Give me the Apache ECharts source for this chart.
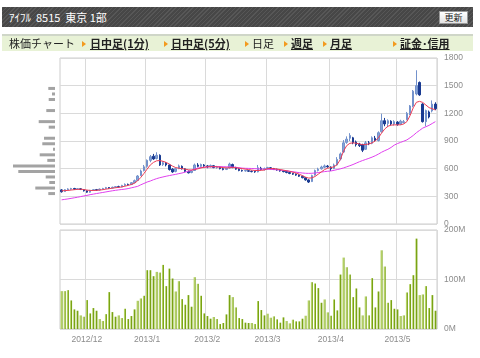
<!DOCTYPE html>
<html><head><meta charset="utf-8">
<script src="https://cdn.jsdelivr.net/npm/echarts/dist/echarts.min.js"></script>
<style>
body{margin:0;width:480px;height:358px;overflow:hidden;background:#fff;position:relative;font-family:"Noto Sans CJK JP",sans-serif;}
#chart{position:absolute;left:0;top:0;width:480px;height:358px;}
#hdr{position:absolute;left:2px;top:7px;width:471px;height:20px;background:repeating-linear-gradient(135deg,#575757 0 1px,#474747 1px 3px);}
#title{position:absolute;left:7px;top:3px;color:#fff;font-size:11px;line-height:14px;white-space:nowrap;}
#btn{position:absolute;left:437px;top:4px;width:27px;height:11px;background:linear-gradient(#fff,#e4e4e4);border:1px solid #999;font-size:9px;line-height:11px;text-align:center;color:#222;}
#nav{position:absolute;left:2px;top:34px;width:471px;height:15px;background:#e8f2d6;border-top:2px solid #cfd6c8;}
.n{position:absolute;top:0px;font-size:11px;line-height:15px;color:#222;white-space:nowrap;}
.l{font-weight:bold;text-decoration:underline;}
.a{position:absolute;top:5px;width:0;height:0;border-left:4px solid #f39a1e;border-top:3px solid transparent;border-bottom:3px solid transparent;}
</style></head><body>
<div id="chart"></div>
<div id="hdr"><span id="title">ｱｲﾌﾙ&nbsp; 8515&nbsp; 東京 1部</span><div id="btn">更新</div></div>
<div id="nav">
<span class="n" style="left:7px">株価チャート</span>
<span class="a" style="left:80px"></span><span class="n l" style="left:88px">日中足(1分)</span>
<span class="a" style="left:162px"></span><span class="n l" style="left:169px">日中足(5分)</span>
<span class="a" style="left:243px"></span><span class="n" style="left:250px">日足</span>
<span class="a" style="left:282px"></span><span class="n l" style="left:289px">週足</span>
<span class="a" style="left:321px"></span><span class="n l" style="left:328px">月足</span>
<span class="a" style="left:391px"></span><span class="n l" style="left:398px">証金･信用</span>
</div>
<script>
// ---- data ----
const dates = [
'2012/11/20','2012/11/21','2012/11/22','2012/11/26','2012/11/27','2012/11/28','2012/11/29','2012/11/30',
'2012/12/03','2012/12/04','2012/12/05','2012/12/06','2012/12/07','2012/12/10','2012/12/11','2012/12/12','2012/12/13','2012/12/14','2012/12/17','2012/12/18','2012/12/19','2012/12/20','2012/12/21','2012/12/25','2012/12/26','2012/12/27','2012/12/28',
'2013/01/04','2013/01/07','2013/01/08','2013/01/09','2013/01/10','2013/01/11','2013/01/15','2013/01/16','2013/01/17','2013/01/18','2013/01/21','2013/01/22','2013/01/23','2013/01/24','2013/01/25','2013/01/28','2013/01/29','2013/01/30','2013/01/31',
'2013/02/01','2013/02/04','2013/02/05','2013/02/06','2013/02/07','2013/02/08','2013/02/12','2013/02/13','2013/02/14','2013/02/15','2013/02/18','2013/02/19','2013/02/20','2013/02/21','2013/02/22','2013/02/25','2013/02/26','2013/02/27','2013/02/28',
'2013/03/01','2013/03/04','2013/03/05','2013/03/06','2013/03/07','2013/03/08','2013/03/11','2013/03/12','2013/03/13','2013/03/14','2013/03/15','2013/03/18','2013/03/19','2013/03/21','2013/03/22','2013/03/25','2013/03/26','2013/03/27','2013/03/28','2013/03/29',
'2013/04/01','2013/04/02','2013/04/03','2013/04/04','2013/04/05','2013/04/08','2013/04/09','2013/04/10','2013/04/11','2013/04/12','2013/04/15','2013/04/16','2013/04/17','2013/04/18','2013/04/19','2013/04/22','2013/04/23','2013/04/24','2013/04/25','2013/04/26','2013/04/30',
'2013/05/01','2013/05/02','2013/05/07','2013/05/08','2013/05/09','2013/05/10','2013/05/13','2013/05/14','2013/05/15','2013/05/16','2013/05/17','2013/05/20','2013/05/21'];

const openP = [370,352,372,378,385,378,382,372,
360,345,365,372,368,378,385,395,390,398,405,402,418,430,428,448,472,525,580,
625,690,735,710,745,645,660,640,595,570,600,625,598,570,558,580,640,625,640,
630,622,632,612,615,600,592,608,645,612,595,580,575,578,572,570,565,605,590,
600,610,600,592,585,575,570,558,548,540,530,518,502,478,460,530,580,598,615,628,
618,602,640,705,780,885,930,935,890,865,860,810,880,875,930,905,1000,1120,1090,1115,1085,
1105,1085,1100,1130,1200,1280,1410,1535,1300,1110,1215,1225,1300];
const closeP = [350,372,380,385,378,382,375,360,
345,365,372,368,378,385,395,390,398,405,402,418,430,425,448,470,520,575,620,
690,730,705,745,640,665,640,590,565,600,630,600,570,555,575,640,625,645,630,
620,635,612,618,600,590,605,650,615,595,580,575,580,572,568,565,610,590,600,
612,600,592,585,575,568,558,548,540,530,518,502,478,455,525,580,595,618,630,620,
600,640,700,760,880,920,960,880,860,850,800,880,870,935,905,990,1120,1085,1120,1085,1110,
1080,1115,1110,1200,1280,1440,1500,1400,1110,1230,1160,1300,1250];
const lowP = [340,348,365,372,370,372,368,352,
338,340,358,362,362,372,380,382,385,392,396,398,412,418,422,442,468,520,570,
610,670,695,700,630,630,625,580,555,560,595,590,560,548,550,575,615,612,620,
605,612,605,600,592,582,585,600,605,588,572,568,568,565,560,555,560,582,580,
590,592,585,578,568,560,550,540,532,522,510,495,470,445,455,525,570,590,605,610,
575,595,635,690,770,870,900,865,840,835,780,805,855,865,890,895,990,1060,1050,1070,1068,
1065,1075,1090,1125,1180,1265,1395,1390,1100,1060,1145,1210,1235];
const highP = [378,378,388,392,392,390,388,378,
365,370,378,380,385,392,402,400,405,412,415,425,440,438,455,482,530,590,640,
700,748,760,778,755,680,672,648,605,610,645,635,605,580,585,655,660,655,650,
640,645,640,630,622,610,612,665,655,620,605,590,588,585,580,578,640,620,612,
620,618,608,600,592,582,578,565,555,548,538,525,510,485,535,590,610,632,645,640,
625,655,725,775,910,950,985,945,905,880,870,900,900,950,955,1005,1196,1150,1135,1125,1125,
1115,1130,1128,1215,1290,1453,1667,1545,1310,1240,1230,1340,1320];
const volumeM = [76.5,76.5,78.5,57.7,39.6,36.9,27.5,24.8,
58.4,31.5,42.3,36.9,20.1,16.1,30,74.5,34.2,24.8,27.5,22.1,40.9,20.1,26.2,39.6,57,61.7,67.1,
118.8,118.8,106.7,115.4,114,129.5,86.6,122,102,75.8,96.6,60.4,49,68.5,45,104.7,91.3,67.1,31.5,
26.2,20.8,24.2,20.1,10,12.1,29.5,68.5,64.4,43.6,22.1,20.1,12.8,12.1,12.1,10,56.4,38.3,27.5,
30.9,22.8,25.5,19.5,12.8,23.5,16.1,11.4,18.8,15.4,15.4,20.8,26.8,57.7,94.6,91.9,82.6,53,59.7,33.6,
26.8,59.7,37.6,110,144.3,124.8,110,64.4,81.9,43.6,27.5,65.8,27.5,102.7,43.6,75.8,159,126.2,53,58.4,40.9,
39.6,26.2,27.5,73.8,90.6,108.7,182.6,68.5,69.8,86.6,42.3,68.5,36.9];
const maShort = [360,362,364,368,372,375,377,374,
368,364,363,365,368,372,378,383,388,393,397,402,410,418,428,442,468,505,548,
595,640,668,685,688,680,668,650,628,612,605,600,595,588,585,590,598,608,615,
620,622,622,620,616,612,608,610,612,610,605,600,595,590,585,580,580,582,585,
600,602,600,596,590,584,578,570,562,552,540,525,508,498,500,515,540,565,590,605,
612,620,645,700,790,850,875,880,876,868,860,862,868,880,900,935,985,1030,1060,1072,1075,
1075,1075,1085,1110,1175,1260,1320,1330,1318,1290,1262,1250,1236];
const maLong = [262,267,272,278,284,290,297,304,
310,318,324,330,336,342,348,354,360,365,370,374,378,384,392,400,408,425,440,
455,466,480,492,502,510,518,525,532,538,546,553,562,572,584,596,606,612,616,
618,620,621,622,622,621,620,620,618,615,610,606,604,603,602,600,598,596,595,
594,592,590,588,585,581,577,572,567,562,557,553,550,549,550,553,558,563,568,572,
575,582,590,598,608,620,632,645,660,675,688,700,712,725,740,758,778,795,810,830,855,
872,885,898,912,935,960,990,1015,1040,1055,1070,1090,1110];
// volume-by-price profile: 60-yen bins from 0 to 1800
const priceBins = ['0','60','120','180','240','300','360','420','480','540','600','660','720','780','840','900','960','1020','1080','1140','1200','1260','1320','1380','1440','1500','1560','1620','1680','1740'];
const binVolume = [0,0,0,0,0,6.7,19.7,5.7,9.3,36.7,42,7.7,15.3,2,12.7,11,0,6.3,16.3,0,8.7,0,6.3,3,6.7,0,0,0,0,0];
const priceTicks = [0,300,600,900,1200,1500,1800];
const volumeTicks = [0,100,200];

// ---- chart ----
const candles = dates.map((d,i)=>[openP[i],closeP[i],lowP[i],highP[i]]);
function monthStart(i){ return i>0 && dates[i].slice(0,7)!==dates[i-1].slice(0,7); }
const gridCol = '#dadada';
const lblFont = {color:'#8c8c8c',fontSize:8.5,fontFamily:'Liberation Sans'};
const chart = echarts.init(document.getElementById('chart'),null,{renderer:'canvas'});
chart.setOption({
  animation:false,
  grid:[
    {left:60,top:58,width:377,height:166,show:true,borderColor:'#cccccc',borderWidth:1},
    {left:60,top:230,width:377,height:99,show:true,borderColor:'#cccccc',borderWidth:1},
    {left:12,top:58,width:43,height:166}
  ],
  xAxis:[
    {type:'category',gridIndex:0,data:dates,boundaryGap:true,axisLine:{show:false},axisTick:{show:false},axisLabel:{show:false},
     splitLine:{show:true,interval:(i)=>monthStart(i),lineStyle:{color:gridCol,width:1}}},
    {type:'category',gridIndex:1,data:dates,boundaryGap:true,axisLine:{show:false},axisTick:{show:false},
     axisLabel:Object.assign({interval:(i)=>monthStart(i),margin:6,formatter:(v)=>{const p=v.split('/');return p[0]+'/'+(+p[1]);}},lblFont),
     splitLine:{show:true,interval:(i)=>monthStart(i),lineStyle:{color:gridCol,width:1}}},
    {type:'value',gridIndex:2,inverse:true,min:0,max:43,show:false}
  ],
  yAxis:[
    {type:'value',gridIndex:0,position:'right',min:priceTicks[0],max:priceTicks[priceTicks.length-1],interval:300,
     axisLine:{show:false},axisTick:{show:false},axisLabel:Object.assign({margin:7,formatter:(v)=>String(v)},lblFont),
     splitLine:{lineStyle:{color:gridCol,width:1}}},
    {type:'value',gridIndex:1,position:'right',min:volumeTicks[0],max:volumeTicks[volumeTicks.length-1],interval:100,
     axisLine:{show:false},axisTick:{show:false},axisLabel:Object.assign({margin:7,formatter:(v)=>v+'M'},lblFont),
     splitLine:{lineStyle:{color:gridCol,width:1}}},
    {type:'category',gridIndex:2,data:priceBins,show:false}
  ],
  series:[
    {type:'candlestick',xAxisIndex:0,yAxisIndex:0,data:candles,barWidth:2,
     itemStyle:{color:'#86a3d6',color0:'#1a3b92',borderColor:'#7392cc',borderColor0:'#1a3b92',borderWidth:1}},
    {type:'line',xAxisIndex:0,yAxisIndex:0,data:maLong,symbol:'none',lineStyle:{color:'#e040ee',width:1}},
    {type:'line',xAxisIndex:0,yAxisIndex:0,data:maShort,symbol:'none',lineStyle:{color:'#ec3b55',width:1}},
    {type:'bar',xAxisIndex:1,yAxisIndex:1,data:volumeM,barWidth:2,
     itemStyle:{color:new echarts.graphic.LinearGradient(0,0,1,0,[{offset:0,color:'#b3d063'},{offset:0.5,color:'#b3d063'},{offset:0.5,color:'#79a314'},{offset:1,color:'#79a314'}])}},
    {type:'bar',xAxisIndex:2,yAxisIndex:2,data:binVolume,barWidth:3,itemStyle:{color:'#a3a3a3'}}
  ]
});
</script>
</body></html>
